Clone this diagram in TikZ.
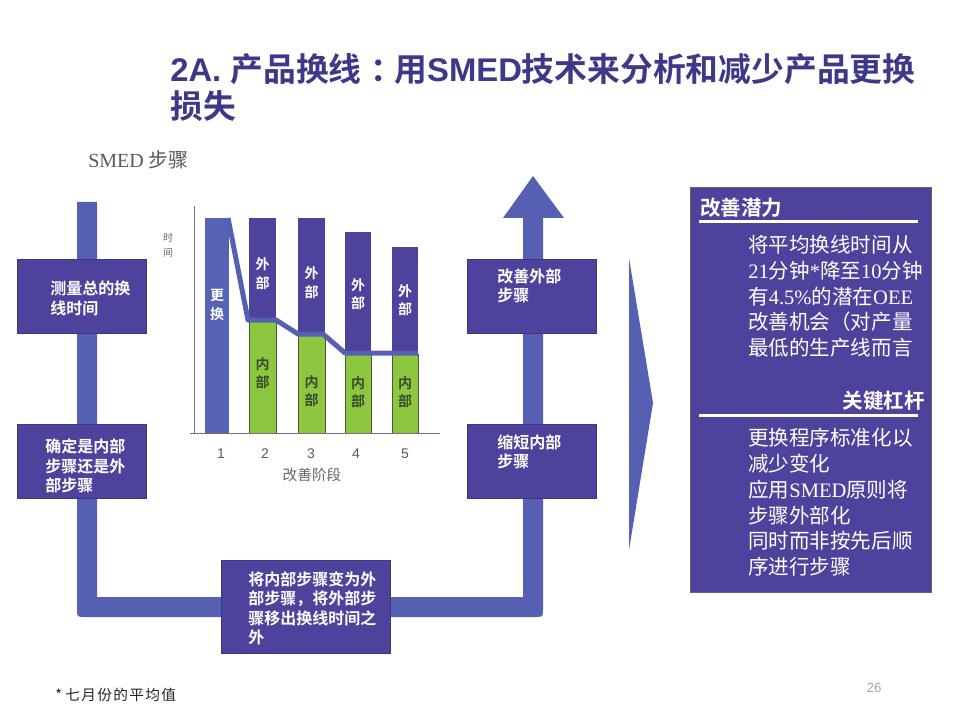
\documentclass[tikz,border=0pt]{standalone}
\usepackage{fontspec}
\setmainfont{Liberation Serif}
\newfontfamily\cjk[BoldFont={Noto Sans CJK SC Bold}]{Noto Sans CJK SC}
\newfontfamily\arial{Liberation Sans}
\definecolor{ubar}{HTML}{5560B2}
\definecolor{boxc}{HTML}{4D429C}
\definecolor{boxedge}{HTML}{3E3585}
\definecolor{titlec}{HTML}{3D3887}
\definecolor{greenc}{HTML}{8DC63F}
\definecolor{greenedge}{HTML}{4A5A38}
\definecolor{bar1c}{HTML}{5563B5}
\definecolor{innertext}{HTML}{3B4A30}
\tikzset{
  stepbox/.style={fill=boxc, draw=boxedge, line width=0.5pt},
  boxtext/.style={anchor=west, inner sep=0pt, align=left, text=white,
    font=\cjk\bfseries\fontsize{12}{14.6}\selectfont},
  paneltext/.style={anchor=west, inner sep=0pt, align=left, text=white,
    font=\cjk\fontsize{15.4}{19.3}\selectfont},
  panelhead/.style={inner sep=0pt, text=white, font=\cjk\bfseries\fontsize{15.4}{18}\selectfont},
  bartext/.style={inner sep=0pt, align=center, text=white,
    font=\cjk\bfseries\fontsize{10.5}{14}\selectfont},
  intext/.style={inner sep=0pt, align=center, text=innertext,
    font=\cjk\bfseries\fontsize{10.5}{14}\selectfont},
  axlabel/.style={inner sep=0pt, text=black!65, font=\arial\fontsize{10.5}{12}\selectfont},
  titletext/.style={anchor=base west, inner sep=0pt, text=titlec, font=\fontsize{24.6}{28}\selectfont},
}
\begin{document}
\begin{tikzpicture}[x=0.75pt,y=-0.75pt]
\useasboundingbox (0,0) rectangle (960,720);

% title
\node[titletext] (title1) at (170,82) {{\arial\bfseries 2A. }{\cjk\bfseries 产品换线\hspace{0.28em}：\hspace{-0.28em}用}{\arial\bfseries SMED}{\cjk\bfseries 技术来分析和减少产品更换}};
\node[titletext] (title2) at (170,119) {\cjk\bfseries 损失};

% subtitle
\node[anchor=west, inner sep=0pt, text=black!65, font=\fontsize{15}{18}\selectfont] (smed) at (88,160) {SMED {\cjk 步骤}};

% U-shaped arrow
\fill[ubar] (543,300) -- (543,218) -- (564,218) -- (533,176) -- (503,218) -- (523,218)
  -- (523,597) -- (97,597) -- (97,202) -- (77,202) -- (77,609) .. controls (77,617) .. (85,617)
  -- (535,617) .. controls (543,617) .. (543,609) -- cycle;

% chevron
\fill[ubar] (629,258) -- (653,403) -- (629,550) -- cycle;

% left boxes
\draw[stepbox] (17,259) rectangle (146,333);
\node[boxtext] (s1) at (50,298.5) {测量总的换\\线时间};
\draw[stepbox] (17,424) rectangle (146,498);
\node[boxtext] (s2) at (45,466) {确定是内部\\步骤还是外\\部步骤};

% right boxes
\draw[stepbox] (467,259) rectangle (596,333);
\node[boxtext] (s4) at (497,286) {改善外部\\步骤};
\draw[stepbox] (467,424) rectangle (596,498);
\node[boxtext] (s3) at (497,452) {缩短内部\\步骤};

% bottom box
\draw[stepbox] (221,560) rectangle (390,653);
\node[boxtext] (s5) at (248,608.5) {将内部步骤变为外\\部步骤，将外部步\\骤移出换线时间之\\外};

% chart bars
\fill[bar1c] (205,218) rectangle (229,433);
\fill[boxc] (249,218) rectangle (276,321);
\filldraw[fill=greenc, draw=greenedge, line width=0.75pt] (249,321) rectangle (276,433);
\fill[boxc] (298,218) rectangle (325,335);
\filldraw[fill=greenc, draw=greenedge, line width=0.75pt] (298,335) rectangle (325,433);
\fill[boxc] (345,232) rectangle (371,354);
\filldraw[fill=greenc, draw=greenedge, line width=0.75pt] (345,354) rectangle (371,433);
\fill[boxc] (392,247) rectangle (418,354);
\filldraw[fill=greenc, draw=greenedge, line width=0.75pt] (392,354) rectangle (418,433);

% trend line
\draw[ubar, line width=3.75pt, line join=round] (228,218) -- (248,320) -- (276,320) -- (298,334) -- (323,334) -- (345,353) -- (418,353);

% axes
\draw[black!55, line width=0.75pt] (194,206) -- (194,433);
\draw[black!55, line width=0.75pt] (190,433) -- (440,433);

% bar texts
\node[bartext] (t1) at (217,305) {更\\换};
\node[bartext] (e2) at (262.5,274) {外\\部};
\node[bartext] (e3) at (311.5,282.5) {外\\部};
\node[bartext] (e4) at (358,294) {外\\部};
\node[bartext] (e5) at (405,300) {外\\部};
\node[intext] (i2) at (262.5,373) {内\\部};
\node[intext] (i3) at (311.5,391) {内\\部};
\node[intext] (i4) at (358,392) {内\\部};
\node[intext] (i5) at (405,392) {内\\部};

% axis labels
\node[inner sep=0pt, align=center, text=black!60, font=\cjk\fontsize{7.5}{11}\selectfont] (ylab) at (168,245.5) {时\\间};
\node[axlabel] (n1) at (221,454) {1};
\node[axlabel] (n2) at (265,454) {2};
\node[axlabel] (n3) at (311,454) {3};
\node[axlabel] (n4) at (356,454) {4};
\node[axlabel] (n5) at (405,454) {5};
\node[inner sep=0pt, text=black!60, font=\cjk\fontsize{11}{13}\selectfont] (xlab) at (312,475) {改善阶段};

% right panel
\draw[fill=boxc, draw=black!60, line width=0.5pt] (690,187) rectangle (931,592);
\node[panelhead, anchor=west] (h1) at (700,208) {改善潜力};
\draw[white, line width=2.25pt] (699,222) -- (918,222);
\node[paneltext] (p1) at (748,296.5) {将平均换线时间从\\{\rmfamily 21}分钟{\rmfamily *}降至{\rmfamily 10}分钟\\有{\rmfamily 4.5\%}的潜在{\rmfamily OEE}\\改善机会（对产量\\最低的生产线而言};
\node[panelhead, anchor=east] (h2) at (925,401) {关键杠杆};
\draw[white, line width=2.25pt] (699,415) -- (918,415);
\node[paneltext] (p2) at (748,502.5) {更换程序标准化以\\减少变化\\应用{\rmfamily SMED}原则将\\步骤外部化\\同时而非按先后顺\\序进行步骤};

% footnote and page number
\node[anchor=west, inner sep=0pt, text=black!85, font=\cjk\fontsize{11}{13}\selectfont] (foot) at (55,695) {* \addfontfeature{LetterSpace=9}七月份的平均值};
\node[inner sep=0pt, text=black!35, font=\arial\fontsize{10}{12}\selectfont] (page) at (874,688) {26};
\end{tikzpicture}
\end{document}
